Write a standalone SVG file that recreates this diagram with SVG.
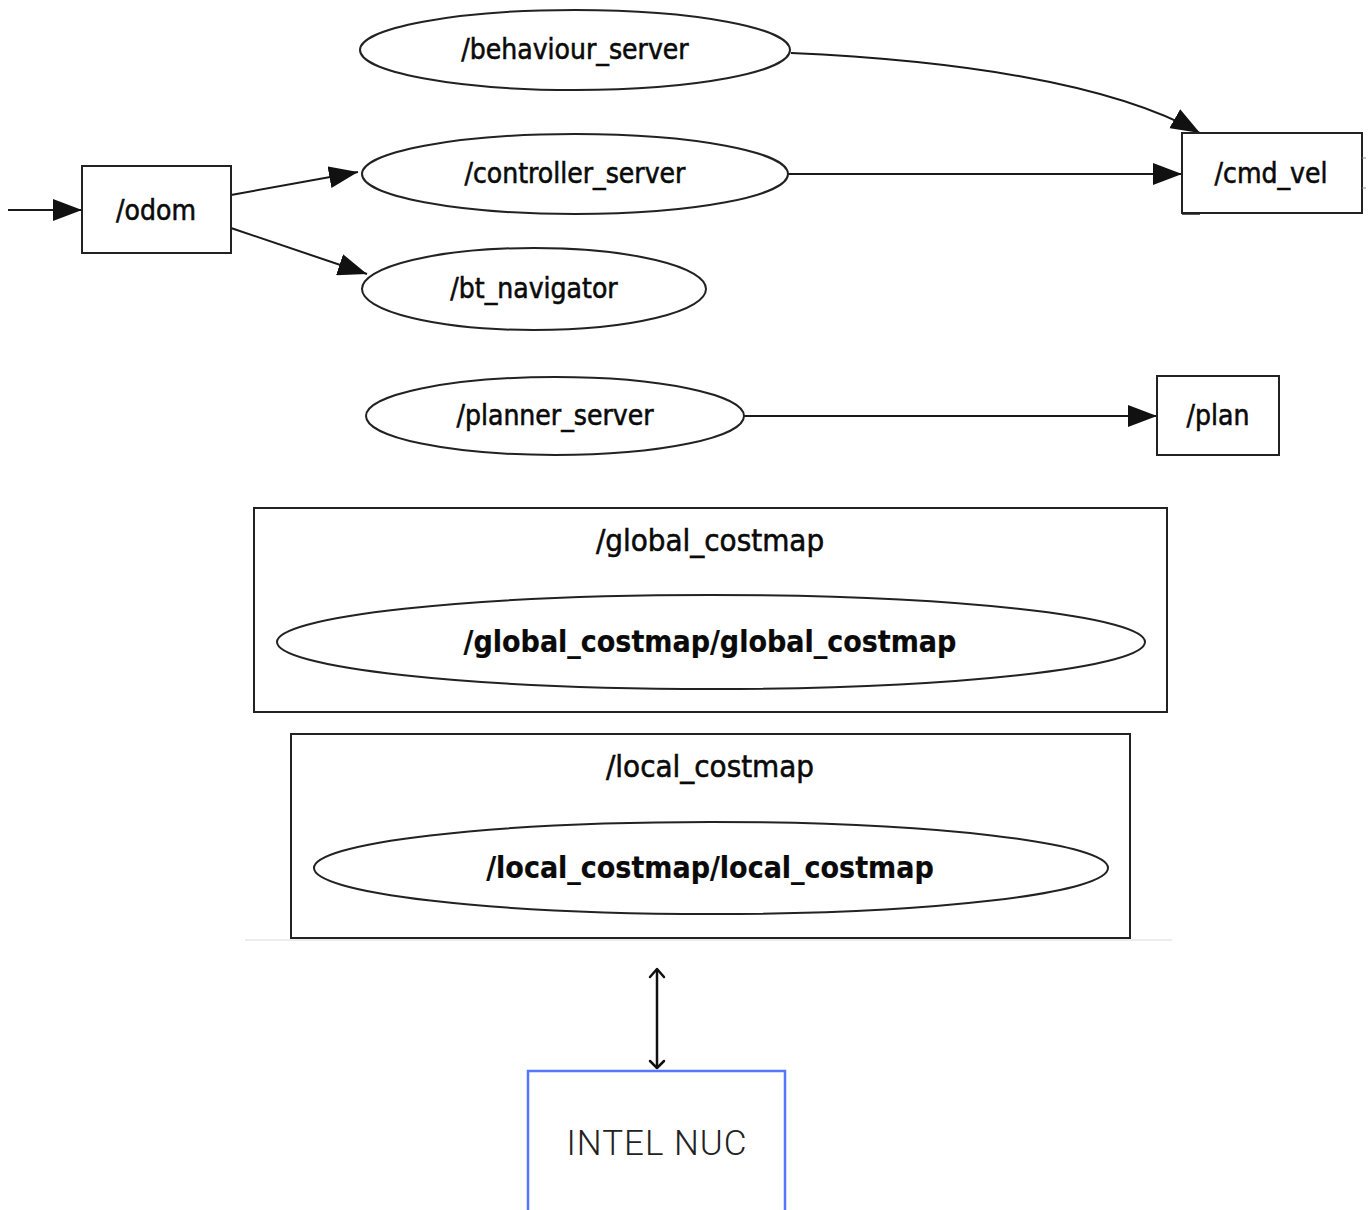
<svg xmlns="http://www.w3.org/2000/svg" width="1372" height="1210" viewBox="0 0 1372 1210">
  <style>
    .node { fill: #ffffff; stroke: #222222; stroke-width: 2; }
    .lbl { font-family: "DejaVu Sans", "Liberation Sans", sans-serif; font-stretch: condensed; font-size: 28px; fill: #0a0a0a; stroke: #0a0a0a; stroke-width: 0.55; text-anchor: middle; dominant-baseline: central; }
    .title { font-size: 31px; }
    .inner { font-size: 30px; font-weight: bold; stroke-width: 0.2; }
    .edge { fill: none; stroke: #1a1a1a; stroke-width: 2; }
  </style>
  <defs>
    <marker id="ahBig" viewBox="0 0 10 10" refX="10" refY="5" markerWidth="29" markerHeight="22" markerUnits="userSpaceOnUse" orient="auto" preserveAspectRatio="none">
      <path d="M0,0 L10,5 L0,10 Z" fill="#111111"/>
    </marker>
  </defs>

  <rect width="1372" height="1210" fill="#ffffff"/>

  <!-- topic / node graph connectors -->
  <g id="connectors">
    <line class="edge" x1="8" y1="210" x2="82" y2="210" marker-end="url(#ahBig)"/>
    <line class="edge" x1="231" y1="195" x2="358" y2="172" marker-end="url(#ahBig)"/>
    <line class="edge" x1="231" y1="228" x2="367" y2="274" marker-end="url(#ahBig)"/>
    <path class="edge" d="M791,53 C950,60 1110,82 1200,133" marker-end="url(#ahBig)"/>
    <line class="edge" x1="788" y1="174" x2="1182" y2="174" marker-end="url(#ahBig)"/>
    <line class="edge" x1="744" y1="416" x2="1157" y2="416" marker-end="url(#ahBig)"/>
    <!-- two-way link to the computer -->
    <line x1="657" y1="970" x2="657" y2="1067" stroke="#111111" stroke-width="2.5"/>
    <polyline points="650,977 657,969 664,977" fill="none" stroke="#111111" stroke-width="2.5" stroke-linejoin="round" stroke-linecap="round"/>
    <polyline points="650,1061 657,1068 664,1061" fill="none" stroke="#111111" stroke-width="2.5" stroke-linejoin="round" stroke-linecap="round"/>
  </g>

  <g id="odom">
    <rect class="node" x="82" y="166" width="149" height="87"/>
    <text class="lbl" x="156" y="210">/odom</text>
  </g>

  <g id="behaviour_server">
    <ellipse class="node" cx="575" cy="50" rx="215" ry="40"/>
    <text class="lbl" x="575" y="49">/behaviour_server</text>
  </g>

  <g id="controller_server">
    <ellipse class="node" cx="575" cy="174" rx="213" ry="40"/>
    <text class="lbl" x="575" y="173">/controller_server</text>
  </g>

  <g id="bt_navigator">
    <ellipse class="node" cx="534" cy="289" rx="172" ry="41"/>
    <text class="lbl" x="534" y="288">/bt_navigator</text>
  </g>

  <g id="cmd_vel">
    <rect class="node" x="1182" y="133" width="180" height="80"/>
    <line x1="1182" y1="214" x2="1200" y2="214" stroke="#222222" stroke-width="1.5"/>
    <line x1="1362" y1="158" x2="1366" y2="158" stroke="#888888" stroke-width="1"/>
    <line x1="1362" y1="188" x2="1366" y2="188" stroke="#888888" stroke-width="1"/>
    <text class="lbl" x="1271" y="173">/cmd_vel</text>
  </g>

  <g id="planner_server">
    <ellipse class="node" cx="555" cy="416" rx="189" ry="39"/>
    <text class="lbl" x="555" y="415">/planner_server</text>
  </g>

  <g id="plan">
    <rect class="node" x="1157" y="376" width="122" height="79"/>
    <text class="lbl" x="1218" y="415">/plan</text>
  </g>

  <g id="global_costmap">
    <rect class="node" x="254" y="508" width="913" height="204"/>
    <text class="lbl title" x="710" y="540">/global_costmap</text>
    <ellipse class="node" cx="711" cy="642" rx="434" ry="47"/>
    <text class="lbl inner" x="710" y="641">/global_costmap/global_costmap</text>
  </g>

  <g id="local_costmap">
    <rect class="node" x="291" y="734" width="839" height="204"/>
    <text class="lbl title" x="710" y="766">/local_costmap</text>
    <ellipse class="node" cx="711" cy="868" rx="397" ry="46"/>
    <text class="lbl inner" x="710" y="867">/local_costmap/local_costmap</text>
  </g>

  <line x1="245" y1="940" x2="1172" y2="940" stroke="#e6e6e6" stroke-width="1.5"/>

  <g id="intel_nuc">
    <rect x="528" y="1071" width="257" height="145" fill="#ffffff" stroke="#5577ff" stroke-width="2.5"/>
    <text x="657" y="1143" font-family="Roboto, 'Liberation Sans', sans-serif" font-weight="300" font-size="35" letter-spacing="1" fill="#222222" text-anchor="middle" dominant-baseline="central">INTEL NUC</text>
  </g>
</svg>
